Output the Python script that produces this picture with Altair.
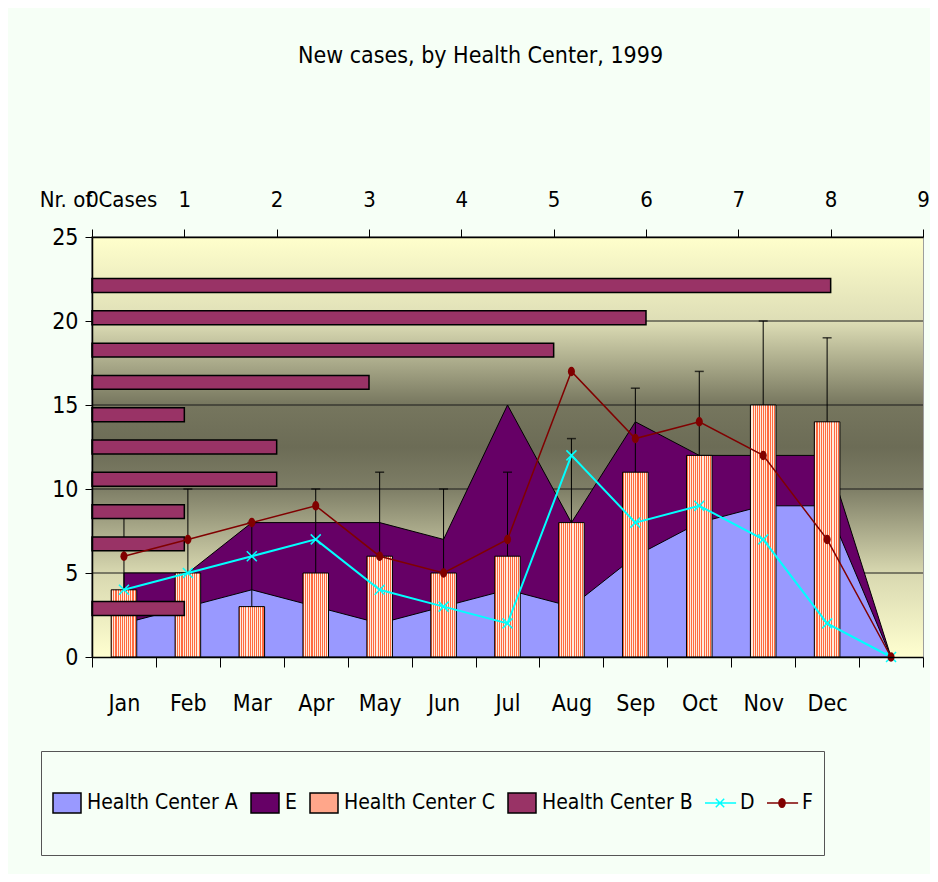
import altair as alt
import pandas as pd

# ---------------- data ----------------
months = ["Jan", "Feb", "Mar", "Apr", "May", "Jun", "Jul", "Aug", "Sep", "Oct", "Nov", "Dec", " "]
hc_a = [2, 3, 4, 3, 2, 3, 4, 3, 6, 8, 9, 9, 0]
hc_e = [5, 5, 8, 8, 8, 7, 15, 8, 14, 12, 12, 12, 0]
hc_b = [0, 1, 0, 1, 1, 2, 2, 1, 3, 5, 6, 8, 0]
hc_d = [4, 5, 6, 7, 4, 3, 2, 12, 8, 9, 7, 2, 0]
hc_f = [6, 7, 8, 9, 6, 5, 7, 17, 13, 14, 12, 7, 0]
c_months = ["Jan", "Feb", "Mar", "Apr", "May", "Jun", "Jul", "Aug", "Sep", "Oct", "Nov", "Dec"]
hc_c = [4, 5, 3, 5, 6, 5, 6, 8, 11, 12, 15, 14]
hc_c_err = [9, 10, 8, 10, 11, 10, 11, 13, 16, 17, 20, 19]
y_ticks = [0, 5, 10, 15, 20, 25]
top_ticks = [0, 1, 2, 3, 4, 5, 6, 7, 8, 9]
grid_vals = [5, 10, 15, 20]
series = ["Health Center A", "E", "Health Center C", "Health Center B", "D", "F"]

df = pd.DataFrame({"month": months, "A": hc_a, "E": hc_e, "B": hc_b, "D": hc_d, "F": hc_f})
dfc = pd.DataFrame({"month": c_months, "C": hc_c, "err": hc_c_err})

# ---------------- styling ----------------
FONT = "Liberation Sans Narrow, Arial Narrow, DejaVu Sans Condensed, Liberation Sans, sans-serif"
W, H = 831, 420
PAGE_BG = "#F6FFF6"

bg_fill = {
    "gradient": "linear", "x1": 0, "y1": 0, "x2": 0, "y2": 1,
    "stops": [
        {"offset": 0.0, "color": "#FFFFCC"},
        {"offset": 0.2, "color": "#DEDEB6"},
        {"offset": 0.4, "color": "#76765E"},
        {"offset": 0.5, "color": "#6C6C56"},
        {"offset": 0.6, "color": "#7E7E66"},
        {"offset": 0.8, "color": "#D8D8B0"},
        {"offset": 1.0, "color": "#FFFFD0"},
    ],
}

hatch_stops = []
n_stripes = 12
for i in range(n_stripes):
    a, m, b = i / n_stripes, (i + 0.5) / n_stripes, (i + 1) / n_stripes
    hatch_stops += [
        {"offset": a, "color": "#FF6A40"},
        {"offset": m, "color": "#FF6A40"},
        {"offset": m, "color": "#FFEBDC"},
        {"offset": b, "color": "#FFEBDC"},
    ]
hatch_fill = {"gradient": "linear", "x1": 0, "y1": 0, "x2": 1, "y2": 0, "stops": hatch_stops}

fill_colors = ["#9999FF", "#660066", "#FFA68A", "#993366", "#00FFFF", "#800000"]
stroke_colors = ["#000000", "#000000", "#000000", "#000000", "#00FFFF", "#800000"]
rect_path = "M-1,-0.72H1V0.72H-1Z"
shape_paths = [
    rect_path, rect_path, rect_path, rect_path,
    "M-1.15,0H1.15M-0.3,-0.3L0.3,0.3M-0.3,0.3L0.3,-0.3",
    "M-1.15,0H1.15M-0.22,0A0.22,0.3 0 1,0 0.22,0A0.22,0.3 0 1,0 -0.22,0Z",
]

xs = alt.Scale(domain=months, paddingInner=0, paddingOuter=0)
ys = alt.Scale(domain=[0, 25], nice=False, zero=True)


def xenc(axis=None):
    return alt.X("month:N", scale=xs, axis=axis, title=None)


bottom_axis = alt.Axis(
    orient="bottom", tickBand="extent", tickSize=10, labelFontSize=23, labelPadding=25,
    labelAngle=0, grid=False, domainWidth=1.5, zindex=1,
)
left_axis = alt.Axis(
    orient="left", values=y_ticks, tickSize=7, labelFontSize=23, labelPadding=7, grid=False,
    title="Nr. of Cases", titleAngle=0, titleX=6, titleY=-31, titleAlign="center",
    titleBaseline="alphabetic", titleFontSize=22, titleFontWeight="normal", domainWidth=1.5, zindex=1,
)
top_axis = alt.Axis(
    orient="top", values=top_ticks, tickSize=8, labelFontSize=22, labelPadding=18, grid=False,
    labelFlush=False, labelOverlap=False, title=None, domainWidth=1.5, zindex=1,
)

# ---------------- layers ----------------
bg = alt.Chart(pd.DataFrame({"k": [0]})).mark_rect(fill=bg_fill).encode(
    x=alt.value(0), x2=alt.value(W), y=alt.value(0), y2=alt.value(H)
)

grid = alt.Chart(pd.DataFrame({"g": grid_vals})).mark_rule(color="#1A1A1A", strokeWidth=1).encode(
    y=alt.Y("g:Q", scale=ys, axis=left_axis)
)

area_e = alt.Chart(df).mark_area(color="#660066", stroke="black", strokeWidth=1, opacity=1).encode(
    x=xenc(), y=alt.Y("E:Q", scale=ys, axis=None, stack=None)
)
area_a = alt.Chart(df).mark_area(color="#9999FF", stroke="black", strokeWidth=1, opacity=1).encode(
    x=xenc(), y=alt.Y("A:Q", scale=ys, axis=None, stack=None)
)

bars_c = alt.Chart(dfc).mark_bar(
    fill=hatch_fill, stroke="black", strokeWidth=1, width=alt.RelativeBandSize(0.4)
).encode(x=xenc(bottom_axis), y=alt.Y("C:Q", scale=ys, axis=None))

err_rule = alt.Chart(dfc).mark_rule(color="black", strokeWidth=1).encode(
    x=xenc(), y=alt.Y("C:Q", scale=ys, axis=None), y2="err:Q"
)
err_cap = alt.Chart(dfc).mark_tick(color="black", thickness=1.5, size=9).encode(
    x=xenc(), y=alt.Y("err:Q", scale=ys, axis=None)
)

bars_b = alt.Chart(df).transform_filter("datum.B > 0").mark_bar(
    color="#993366", stroke="black", strokeWidth=1.5
).encode(
    x=alt.X("B:Q", scale=alt.Scale(domain=[0, 9], nice=False), axis=top_axis),
    y=alt.Y("month:N", scale=alt.Scale(domain=months[::-1], paddingInner=0.57, paddingOuter=0.285),
            axis=None),
)

line_d = alt.Chart(df).mark_line(color="#00FFFF", strokeWidth=2).encode(
    x=xenc(), y=alt.Y("D:Q", scale=ys, axis=None)
)
pts_d = alt.Chart(df).mark_point(
    shape="M-1,-1L1,1M-1,1L1,-1", color="#00FFFF", size=100, strokeWidth=1.5, filled=False, opacity=1
).encode(x=xenc(), y=alt.Y("D:Q", scale=ys, axis=None))

line_f = alt.Chart(df).mark_line(color="#800000", strokeWidth=1.5).encode(
    x=xenc(), y=alt.Y("F:Q", scale=ys, axis=None)
)
pts_f = alt.Chart(df).mark_point(
    shape="M-0.75,0A0.75,1 0 1,0 0.75,0A0.75,1 0 1,0 -0.75,0Z", color="#800000", size=90,
    filled=True, opacity=1
).encode(x=xenc(), y=alt.Y("F:Q", scale=ys, axis=None))

legend_def = alt.Legend(
    orient="none", legendX=-51, legendY=514, direction="horizontal", title=None,
    padding=11, strokeColor="#555555", fillColor=PAGE_BG, labelFontSize=21, labelFont=FONT,
    labelColor="black", symbolSize=784, symbolStrokeWidth=1.5, columnPadding=12,
    labelOffset=5, clipHeight=82, labelLimit=300,
)
legend_layer = alt.Chart(pd.DataFrame({"series": series})).transform_filter("false").mark_point(
    filled=True, opacity=1, strokeWidth=1.5
).encode(
    fill=alt.Fill("series:N", scale=alt.Scale(domain=series, range=fill_colors), legend=legend_def),
    stroke=alt.Stroke("series:N", scale=alt.Scale(domain=series, range=stroke_colors), legend=legend_def),
    shape=alt.Shape("series:N", scale=alt.Scale(domain=series, range=shape_paths), legend=legend_def),
)

chart = alt.layer(
    bg, grid, area_e, area_a, bars_c, err_rule, err_cap, bars_b, line_d, pts_d, line_f, pts_f, legend_layer
).resolve_scale(
    x="independent", y="independent"
).properties(
    width=W, height=H,
    autosize=alt.AutoSizeParams(type="none"),
    padding={"left": 84, "top": 229, "right": 7, "bottom": 217},
    background=PAGE_BG,
    title=alt.TitleParams(
        "New cases, by Health Center, 1999", fontSize=23, font=FONT, fontWeight="normal",
        color="black", anchor="middle", dx=-27, offset=120,
    ),
).configure_axis(
    labelFont=FONT, titleFont=FONT, labelColor="black", titleColor="black",
    domainColor="black", tickColor="black",
).configure_view(
    stroke="#808080", strokeWidth=1.5
)

chart.save("out.html", embed_options={"renderer": "svg", "actions": False})
